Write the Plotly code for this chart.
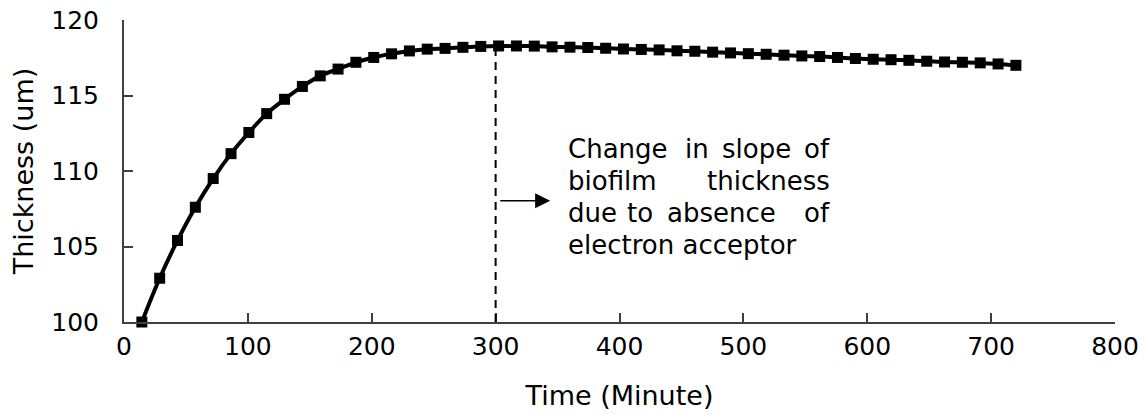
import plotly.graph_objects as go

# Data
time_min = [14.4 * k for k in range(1, 51)]
thickness = [100.0, 102.9, 105.4, 107.6, 109.5, 111.15, 112.55, 113.8, 114.75, 115.6,
             116.3, 116.75, 117.2, 117.52, 117.76, 117.95, 118.07, 118.12, 118.19, 118.25,
             118.28, 118.28, 118.27, 118.22, 118.2, 118.18, 118.13, 118.08, 118.05, 118.02,
             117.96, 117.93, 117.87, 117.82, 117.77, 117.73, 117.67, 117.62, 117.58, 117.52,
             117.45, 117.4, 117.37, 117.33, 117.27, 117.22, 117.2, 117.16, 117.09, 117.0]
x_ticks = [0, 100, 200, 300, 400, 500, 600, 700, 800]
y_ticks = [100, 105, 110, 115, 120]
change_time = 300
# note words laid out as a justified paragraph (word, line index)
note_words = [("Change", 0), ("in", 0), ("slope", 0), ("of", 0),
              ("biofilm", 1), ("thickness", 1),
              ("due", 2), ("to", 2), ("absence", 2), ("of", 2),
              ("electron acceptor", 3)]

FONT = "DejaVu Sans"
W, H = 1147, 415
L, R, T, B = 124, 32, 20, 93
PW, PH = W - L - R, H - T - B

def px(xp):
    return (xp - L) / PW

def py(yp):
    return (H - B - yp) / PH

fig = go.Figure()
fig.add_trace(go.Scatter(
    x=time_min, y=thickness, mode="lines+markers",
    line=dict(color="black", width=4, shape="spline"),
    marker=dict(symbol="square", size=11, color="black"),
    cliponaxis=False, showlegend=False,
))

# dashed vertical line at change time
peak = max(thickness)
fig.add_shape(type="line", xref="x", yref="y", x0=change_time, x1=change_time,
              y0=100, y1=peak, line=dict(color="black", width=2, dash="8px,6px"))

# arrow
fig.add_annotation(xref="x", yref="y", axref="x", ayref="y",
                   x=change_time + 44, y=108.03, ax=change_time + 2.5, ay=108.03,
                   text="", showarrow=True, arrowhead=2, arrowsize=2, arrowwidth=1.5,
                   arrowcolor="black")

# justified note text (word placement in pixels)
fnt_note = dict(family=FONT, size=26, color="black")
line_y = [149, 181, 213, 245]
word_left = {0: [567, 684, 721, None], 1: [567, None], 2: [567, 626, 666, None], 3: [567]}
x_right = 831
counters = {0: 0, 1: 0, 2: 0, 3: 0}
for word, li in note_words:
    i = counters[li]
    counters[li] += 1
    left = word_left[li][i]
    if left is None:
        xa, xv = "right", x_right
    else:
        xa, xv = "left", left
    fig.add_annotation(xref="paper", yref="paper", x=px(xv), y=py(line_y[li]), text=word,
                       showarrow=False, xanchor=xa, yanchor="middle", font=fnt_note,
                       borderpad=0)

fnt_tick = dict(family=FONT, size=25, color="black")
fnt_title = dict(family=FONT, size=27, color="black")
axis_col = "#404040"
fig.update_xaxes(range=[0, 800], tickvals=x_ticks, ticks="inside", ticklen=9, tickwidth=1.5,
                 tickcolor=axis_col, showline=True, linecolor=axis_col, linewidth=2,
                 showgrid=False, zeroline=False, tickfont=fnt_tick, ticklabelstandoff=1,
                 title=dict(text="Time (Minute)", font=fnt_title, standoff=26))
fig.update_yaxes(range=[100, 120], tickvals=y_ticks, ticks="inside", ticklen=9, tickwidth=1.5,
                 tickcolor=axis_col, showline=True, linecolor=axis_col, linewidth=2,
                 showgrid=False, zeroline=False, tickfont=fnt_tick, ticklabelstandoff=18,
                 title=dict(text="Thickness (um)", font=fnt_title, standoff=10))
fig.update_layout(width=W, height=H, margin=dict(l=L, r=R, t=T, b=B, autoexpand=False),
                  plot_bgcolor="white", paper_bgcolor="white", font=fnt_tick)
fig.write_html("out.html")
